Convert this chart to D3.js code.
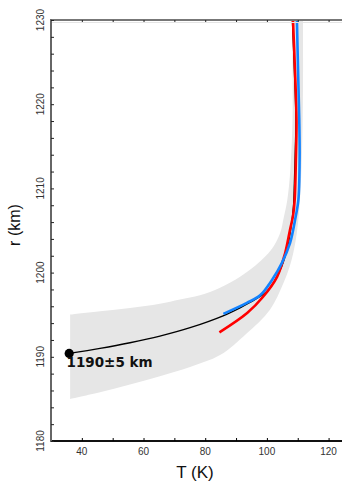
<!DOCTYPE html>
<html>
<head>
<meta charset="utf-8">
<script src="https://cdn.jsdelivr.net/npm/d3@7"></script>
<style>
    body { margin: 0; background: #fff; }
    svg { display: block; }
</style>
</head>
<body>
<div id="wrapper"></div>
<script>
// temperature profile (T in K, r in km)
const blackT = [35.9, 45.9, 55.6, 65.3, 75.1, 85.8, 91.3, 96.2, 100.4, 104.3, 106.5, 107.8, 108.6, 108.9, 109.2, 109.4, 108.9, 108.2]
const blackR = [1190.4, 1191.0, 1191.67, 1192.46, 1193.46, 1194.87, 1195.82, 1196.8, 1197.9, 1200.3, 1202.7, 1205.3, 1207.8, 1210.6, 1214.6, 1218.1, 1224.1, 1230.5]

const redT = [84.6, 93.6, 98.7, 103.3, 105.9, 107.5, 108.5, 109.0, 109.4, 109.6, 109.1, 108.4]
const redR = [1192.9, 1195.2, 1197.1, 1199.5, 1202.3, 1205.1, 1206.8, 1208.6, 1213.4, 1218.1, 1224.1, 1230.5]

const blueT = [85.9, 93.5, 97.8, 101.6, 104.8, 107.5, 109.1, 110.2, 110.6, 110.5, 110.1, 109.7]
const blueR = [1195.1, 1196.4, 1197.3, 1199.1, 1201.1, 1203.5, 1206.2, 1208.6, 1213.4, 1218.1, 1224.1, 1230.5]

// grey uncertainty band, upper/left edge and lower/right edge
const bandUpT = [36.2, 45.9, 55.6, 65.3, 71.8, 78.3, 84.8, 91.3, 96.2, 99.7, 102.3, 104.3, 105.5, 106.6, 107.6, 108.3, 108.3, 108.1]
const bandUpR = [1195.0, 1195.4, 1195.8, 1196.3, 1196.8, 1197.3, 1198.2, 1199.5, 1200.8, 1202.0, 1203.2, 1204.7, 1206.6, 1208.6, 1212.2, 1218.1, 1225.3, 1230.5]
const bandLoT = [36.2, 45.9, 55.6, 65.3, 75.1, 84.8, 93.5, 101.0, 105.3, 108.0, 109.7, 110.7, 111.4, 111.7, 111.7]
const bandLoR = [1185.0, 1185.8, 1186.7, 1187.7, 1188.8, 1190.2, 1192.8, 1195.6, 1198.7, 1201.5, 1204.7, 1208.6, 1214.6, 1221.7, 1230.5]

const xTicks = [40, 50, 60, 70, 80, 90, 100, 110, 120]
const xLabels = [40, 60, 80, 100, 120]
const yTicks = d3.range(1180, 1231, 2)
const yLabels = [1180, 1190, 1200, 1210, 1220, 1230]

const startT = 35.9, startR = 1190.4
const noteText = "1190\u00b15 km"

const width = 342, height = 484

const svg = d3.select("#wrapper")
    .append("svg")
    .attr("width", width)
    .attr("height", height)

const x = d3.scaleLinear().domain([30, 125]).range([51, 344])
const y = d3.scaleLinear().domain([1180, 1230]).range([441, 20])

svg.append("clipPath").attr("id", "plot")
    .append("rect")
    .attr("x", x(30)).attr("y", y(1230))
    .attr("width", x(125) - x(30)).attr("height", y(1180) - y(1230))

const plot = svg.append("g").attr("clip-path", "url(#plot)")

const line = d3.line()
    .x(d => x(d[0]))
    .y(d => y(d[1]))
    .curve(d3.curveCatmullRom)

function zip(a, b) { return a.map((v, i) => [v, b[i]]) }

// band: upper edge, then lower edge back, straight left side
const upPath = line(zip(bandUpT, bandUpR))
const loPath = line(zip(bandLoT, bandLoR).reverse())
plot.append("path")
    .attr("d", upPath + "L" + loPath.slice(1) + "Z")
    .attr("fill", "#e6e6e6")

plot.append("path")
    .attr("d", line(zip(blackT, blackR)))
    .attr("fill", "none").attr("stroke", "#000").attr("stroke-width", 1.3)

plot.append("path")
    .attr("d", line(zip(redT, redR)))
    .attr("fill", "none").attr("stroke", "#ff0000").attr("stroke-width", 2.6)

plot.append("path")
    .attr("d", line(zip(blueT, blueR)))
    .attr("fill", "none").attr("stroke", "#1283ff").attr("stroke-width", 2.6)

// axes
const bottomAx = svg.append("g")
    .attr("transform", `translate(0,${y(1180)})`)
    .call(d3.axisBottom(x).tickValues(xTicks).tickSize(-3).tickFormat(""))
bottomAx.select(".domain").attr("stroke", "#111").attr("stroke-width", 2)
    .attr("d", `M${x(30)},0H${width}`)

const topAx = svg.append("g")
    .attr("transform", `translate(0,${y(1230)})`)
    .call(d3.axisTop(x).tickValues(xTicks).tickSize(-3).tickFormat(""))
topAx.select(".domain").attr("stroke", "#777").attr("stroke-width", 2)
    .attr("d", `M${x(30)},0H${width}`)
topAx.selectAll(".tick line").attr("stroke", "#222")
svg.append("line")
    .attr("x1", x(30)).attr("x2", width)
    .attr("y1", y(1230) + 2.5).attr("y2", y(1230) + 2.5)
    .attr("stroke", "#e4e4e4").attr("stroke-width", 1)

const leftAx = svg.append("g")
    .attr("transform", `translate(${x(30)},0)`)
    .call(d3.axisLeft(y).tickValues(yTicks).tickSize(-3).tickFormat(""))
leftAx.select(".domain").attr("stroke", "#666").attr("stroke-width", 2)
    .attr("d", `M0,${y(1230) - 1}V${y(1180) + 1}`)
leftAx.selectAll(".tick line").attr("stroke", "#222")

// tick labels
svg.selectAll(".xlab")
    .data(xLabels)
    .enter()
    .append("text")
    .attr("x", d => x(d))
    .attr("y", 455)
    .attr("text-anchor", "middle")
    .style("font-family", "Liberation Sans, Arial, sans-serif")
    .style("font-size", "10px")
    .style("fill", "#333")
    .text(d => d)

svg.selectAll(".ylab")
    .data(yLabels)
    .enter()
    .append("text")
    .attr("transform", d => `translate(43.5,${y(d)}) rotate(-90)`)
    .attr("text-anchor", "middle")
    .style("font-family", "Liberation Sans, Arial, sans-serif")
    .style("font-size", "10px")
    .style("fill", "#333")
    .text(d => d)

// axis titles
svg.append("text")
    .attr("x", 195).attr("y", 478)
    .attr("text-anchor", "middle")
    .style("font-family", "Liberation Sans, Arial, sans-serif")
    .style("font-size", "17px")
    .style("fill", "#111")
    .text("T (K)")

svg.append("text")
    .attr("transform", "translate(20,225) rotate(-90)")
    .attr("text-anchor", "middle")
    .style("font-family", "Liberation Sans, Arial, sans-serif")
    .style("font-size", "16px")
    .style("fill", "#111")
    .text("r (km)")

// start point + label
svg.append("circle")
    .attr("cx", x(startT)).attr("cy", y(startR))
    .attr("r", 4.6)
    .attr("fill", "#000")

svg.append("text")
    .attr("x", 66.5).attr("y", 366.5)
    .style("font-family", "DejaVu Sans, sans-serif")
    .style("font-weight", "bold")
    .style("font-size", "13.5px")
    .style("fill", "#111")
    .text(noteText)
</script>
</body>
</html>
